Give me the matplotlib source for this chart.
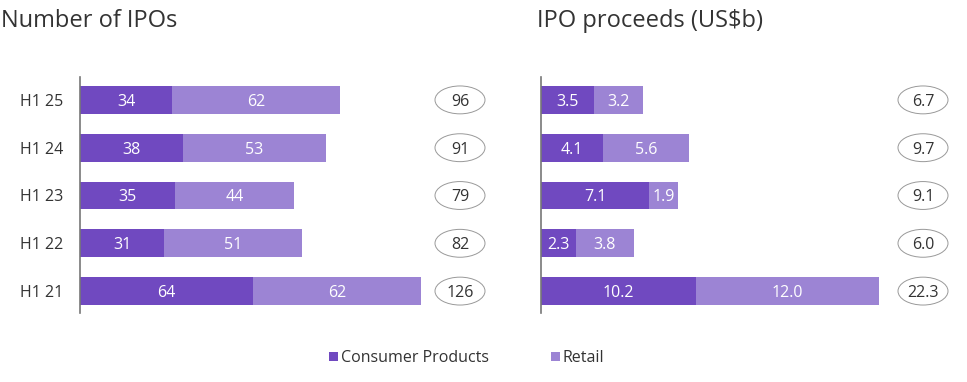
import matplotlib
matplotlib.use("Agg")
import matplotlib.pyplot as plt
from matplotlib.patches import Ellipse, Rectangle

periods = ["H1 21", "H1 22", "H1 23", "H1 24", "H1 25"]
ipo_cp = [64, 31, 35, 38, 34]
ipo_retail = [62, 51, 44, 53, 62]
ipo_total = [126, 82, 79, 91, 96]
proc_cp = [10.2, 2.3, 7.1, 4.1, 3.5]
proc_retail = [12.0, 3.8, 1.9, 5.6, 3.2]
proc_total = ["22.3", "6.0", "9.1", "9.7", "6.7"]
ipo_total_lbl = [str(v) for v in ipo_total]
proc_cp_lbl = ["10.2", "2.3", "7.1", "4.1", "3.5"]
proc_retail_lbl = ["12.0", "3.8", "1.9", "5.6", "3.2"]

C_CP = "#7049c0"
C_RT = "#9c84d4"
TXT = "#333333"
FONT = "Open Sans"
FS = 11.5
plt.rcParams["font.family"] = [FONT, "DejaVu Sans"]

W, H = 967, 382
fig = plt.figure(figsize=(W / 100, H / 100), dpi=100)

def px_axes(x0, x1, y0, y1):
    return fig.add_axes([x0 / W, 1 - y1 / H, (x1 - x0) / W, (y1 - y0) / H])

def panel(ax, cp, rt, cp_lbl, rt_lbl, tot_lbl, pxunit, ell_px, xw_px):
    n = len(periods)
    ys = list(range(n))
    ax.barh(ys, cp, height=28 / 48, color=C_CP, linewidth=0)
    ax.barh(ys, rt, left=cp, height=28 / 48, color=C_RT, linewidth=0)
    for y, a, b, la, lb, t in zip(ys, cp, rt, cp_lbl, rt_lbl, tot_lbl):
        ax.text(a / 2, y, la, color="white", ha="center", va="center_baseline", fontsize=FS)
        ax.text(a + b / 2, y, lb, color="white", ha="center", va="center_baseline", fontsize=FS)
        ex = ell_px / pxunit
        ax.add_patch(Ellipse((ex, y), 50 / pxunit, 28 / 48, facecolor="white",
                             edgecolor="#999999", linewidth=0.7, clip_on=False))
        ax.text(ex, y, t, color=TXT, ha="center", va="center_baseline", fontsize=FS)
    ax.set_xlim(0, xw_px / pxunit)
    ax.set_ylim(-22 / 48, 4 + 23 / 48)
    for s in ["top", "right", "bottom"]:
        ax.spines[s].set_visible(False)
    ax.spines["left"].set_color("#777777")
    ax.spines["left"].set_linewidth(1.2)
    ax.set_xticks([])
    ax.set_yticks(ys)
    ax.tick_params(axis="y", length=0, pad=12)

ax1 = px_axes(80, 500, 77, 313)
panel(ax1, ipo_cp, ipo_retail, [str(v) for v in ipo_cp], [str(v) for v in ipo_retail],
      ipo_total_lbl, 341 / 126, 380, 420)
ax1.set_yticklabels(periods, fontsize=FS, color=TXT, va="center_baseline")

ax2 = px_axes(541, 962, 77, 313)
panel(ax2, proc_cp, proc_retail, proc_cp_lbl, proc_retail_lbl, proc_total, 339.5 / 22.3, 382, 421)
ax2.set_yticklabels([])

fig.text(1 / W, 1 - 27 / H, "Number of IPOs", fontsize=17, color=TXT, ha="left", va="baseline")
fig.text(537 / W, 1 - 27 / H, "IPO proceeds (US$b)", fontsize=17, color=TXT, ha="left", va="baseline")

# legend
for sx, lbl, col in [(329, "Consumer Products", C_CP), (551, "Retail", C_RT)]:
    fig.patches.append(Rectangle((sx / W, 1 - 361 / H), 9 / W, 9 / H, transform=fig.transFigure,
                                 facecolor=col, edgecolor="none"))
    fig.text((sx + 12) / W, 1 - 356.5 / H, lbl, fontsize=FS, color=TXT, ha="left", va="center_baseline")

fig.savefig("out.png", dpi=100)
